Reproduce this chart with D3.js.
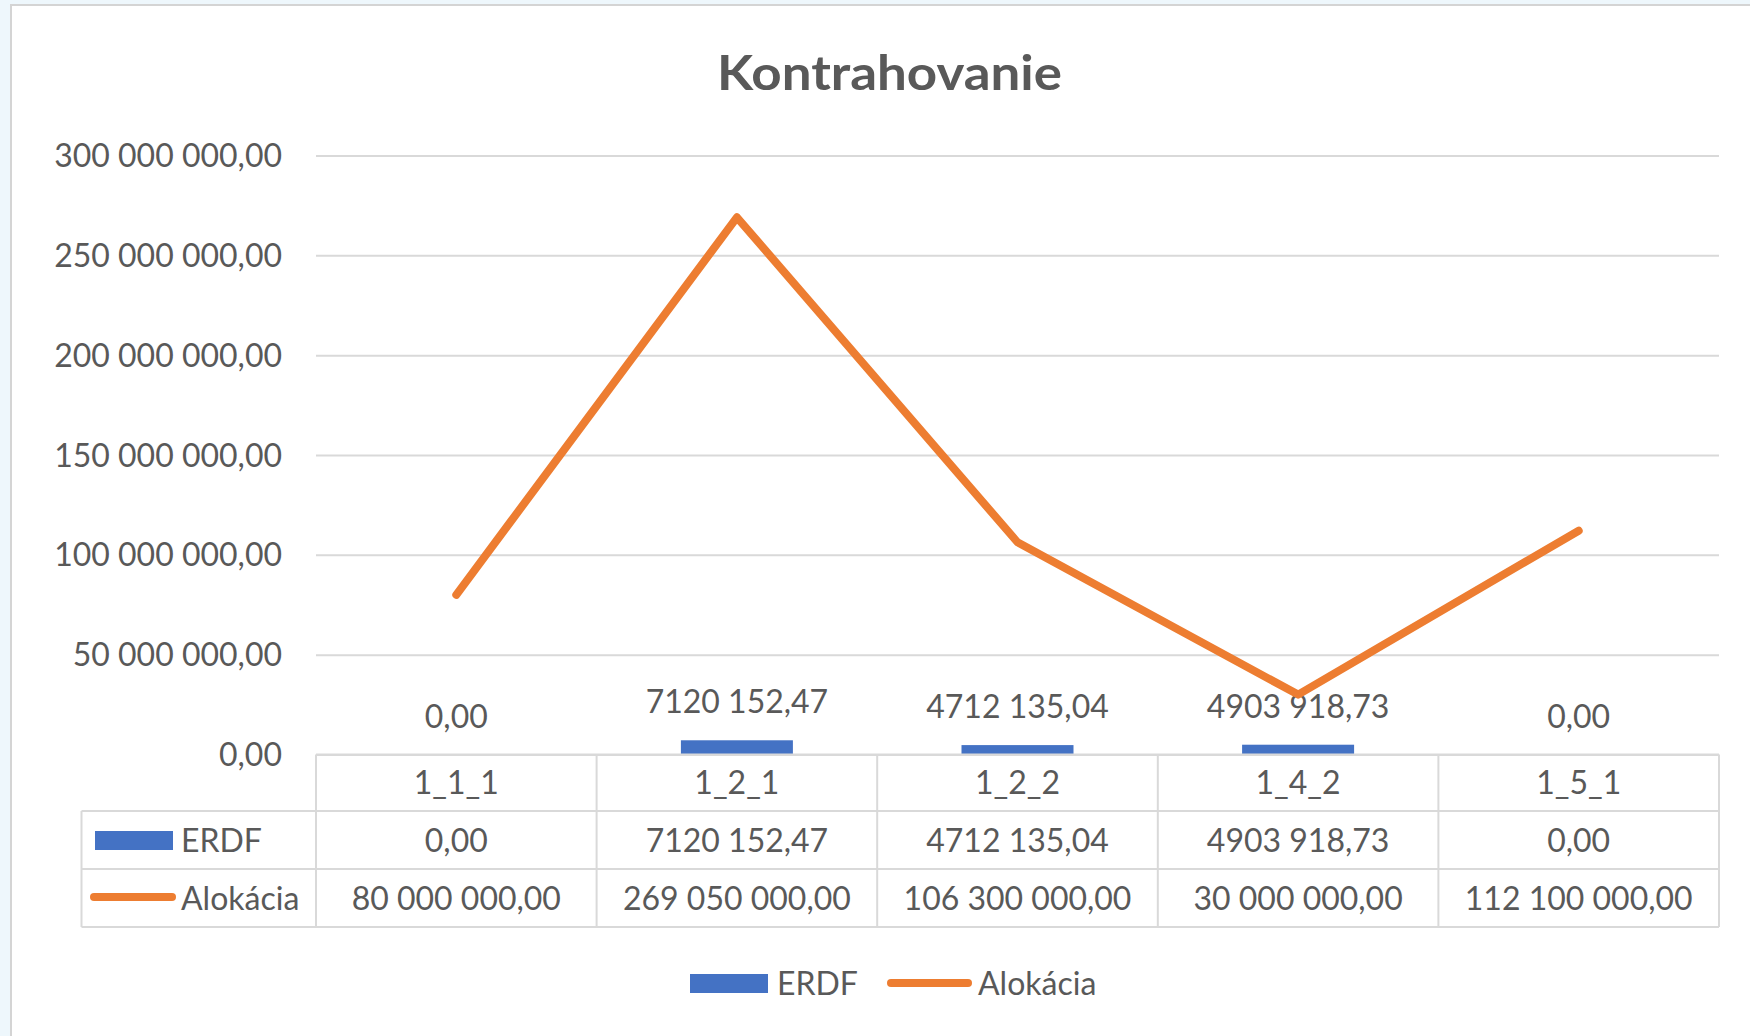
<!DOCTYPE html>
<html>
<head>
<meta charset="utf-8">
<script src="https://cdn.jsdelivr.net/npm/d3@7"></script>
<style>
  html, body { margin: 0; padding: 0; background: #eef7fc; }
  svg { display: block; }
  text { font-family: Lato, "Noto Sans", sans-serif; fill: #595959; }
</style>
</head>
<body>
<svg id="chart" width="1750" height="1036"></svg>
<script>
// data
const categories = ['1_1_1', '1_2_1', '1_2_2', '1_4_2', '1_5_1']
const erdf = [0, 7120152.47, 4712135.04, 4903918.73, 0]
const alokacia = [80000000, 269050000, 106300000, 30000000, 112100000]
// labels exactly as they are printed in the chart
const erdfLabels = ['0,00', '7120 152,47', '4712 135,04', '4903 918,73', '0,00']
const yTicks = [0, 50000000, 100000000, 150000000, 200000000, 250000000, 300000000]

const W = 1750, H = 1036
const plotL = 316, plotR = 1719, plotT = 155.5, plotB = 754.5
const rowH = [754.5, 811, 869, 927] // data table row borders
const legendLeft = 81.5
const blue = '#4472C4', orange = '#ED7D31', grid = '#d9d9d9'

const locale = d3.formatLocale({decimal: ',', thousands: '\u00a0', grouping: [3]})
const fmt = locale.format(',.2f')

const svg = d3.select('#chart')

// chart area
svg.append('rect')
  .attr('x', 11).attr('y', 5).attr('width', W).attr('height', H)
  .attr('fill', '#fff').attr('stroke', '#d4d4d4').attr('stroke-width', 2)

// title is a bit wider than Lato, stretch it to the same width
svg.append('text')
  .attr('x', 717).attr('y', 90)
  .attr('font-size', 48).attr('font-weight', 'bold')
  .attr('textLength', 345).attr('lengthAdjust', 'spacingAndGlyphs')
  .text('Kontrahovanie')

const x = d3.scaleBand().domain(categories).range([plotL, plotR]).padding(0)
const y = d3.scaleLinear().domain([0, 300000000]).range([plotB, plotT])

// gridlines + y labels
const yAxis = d3.axisLeft(y).tickValues(yTicks).tickSize(-(plotR - plotL)).tickFormat(fmt)
const ga = svg.append('g').attr('transform', `translate(${plotL},0)`).call(yAxis)
ga.select('.domain').remove()
ga.selectAll('.tick line').attr('stroke', grid).attr('stroke-width', 2)
ga.selectAll('.tick text')
  .attr('x', -34).attr('dy', null).attr('y', 11)
  .attr('font-size', 32).attr('fill', '#595959')
  .style('font-family', 'Lato, "Noto Sans", sans-serif')

// bars
const bw = 112
svg.append('g').selectAll('rect')
  .data(erdf)
  .join('rect')
  .attr('x', (d, i) => x(categories[i]) + x.bandwidth() / 2 - bw / 2)
  .attr('y', d => y(d))
  .attr('width', bw)
  .attr('height', d => plotB - y(d))
  .attr('fill', blue)

// bar data labels
svg.append('g').selectAll('text')
  .data(erdf)
  .join('text')
  .attr('x', (d, i) => x(categories[i]) + x.bandwidth() / 2)
  .attr('y', d => y(d) - 27)
  .attr('text-anchor', 'middle')
  .attr('font-size', 32)
  .text((d, i) => erdfLabels[i])

// line
const line = d3.line()
  .x((d, i) => x(categories[i]) + x.bandwidth() / 2)
  .y(d => y(d))
svg.append('path')
  .datum(alokacia)
  .attr('d', line)
  .attr('fill', 'none')
  .attr('stroke', orange)
  .attr('stroke-width', 8)
  .attr('stroke-linejoin', 'round')
  .attr('stroke-linecap', 'round')

// data table
const tb = svg.append('g').attr('stroke', grid).attr('stroke-width', 2).attr('fill', 'none')
tb.append('line').attr('x1', plotL).attr('x2', plotR).attr('y1', rowH[0]).attr('y2', rowH[0])
rowH.slice(1).forEach(yy => {
  tb.append('line').attr('x1', legendLeft).attr('x2', plotR).attr('y1', yy).attr('y2', yy)
})
tb.append('line').attr('x1', legendLeft).attr('x2', legendLeft).attr('y1', rowH[1]).attr('y2', rowH[3])
categories.forEach(c => {
  tb.append('line').attr('x1', x(c)).attr('x2', x(c)).attr('y1', rowH[0]).attr('y2', rowH[3])
})
tb.append('line').attr('x1', plotR).attr('x2', plotR).attr('y1', rowH[0]).attr('y2', rowH[3])

const rowMid = i => (rowH[i] + rowH[i + 1]) / 2 + 11
const cells = svg.append('g').attr('text-anchor', 'middle').attr('font-size', 32)
cells.selectAll('.cat').data(categories).join('text')
  .attr('x', d => x(d) + x.bandwidth() / 2).attr('y', rowMid(0)).text(d => d)
cells.selectAll('.erdf').data(erdf).join('text')
  .attr('x', (d, i) => x(categories[i]) + x.bandwidth() / 2).attr('y', rowMid(1) + 1)
  .text((d, i) => erdfLabels[i])
cells.selectAll('.alo').data(alokacia).join('text')
  .attr('x', (d, i) => x(categories[i]) + x.bandwidth() / 2).attr('y', rowMid(2) + 1)
  .text(d => fmt(d))

// legend keys inside the table
svg.append('rect').attr('x', 95).attr('y', 831).attr('width', 78).attr('height', 19).attr('fill', blue)
svg.append('text').attr('x', 181).attr('y', rowMid(1) + 1).attr('font-size', 32).text('ERDF')
svg.append('line').attr('x1', 94).attr('x2', 172).attr('y1', 897).attr('y2', 897)
  .attr('stroke', orange).attr('stroke-width', 8).attr('stroke-linecap', 'round')
svg.append('text').attr('x', 181).attr('y', rowMid(2) + 1).attr('font-size', 32).text('Alokácia')

// bottom legend
const lg = svg.append('g')
lg.append('rect').attr('x', 690).attr('y', 974).attr('width', 78).attr('height', 19).attr('fill', blue)
lg.append('text').attr('x', 777).attr('y', 995).attr('font-size', 32).text('ERDF')
lg.append('line').attr('x1', 891).attr('x2', 968).attr('y1', 983).attr('y2', 983)
  .attr('stroke', orange).attr('stroke-width', 8).attr('stroke-linecap', 'round')
lg.append('text').attr('x', 978).attr('y', 995).attr('font-size', 32).text('Alokácia')
</script>
</body>
</html>
